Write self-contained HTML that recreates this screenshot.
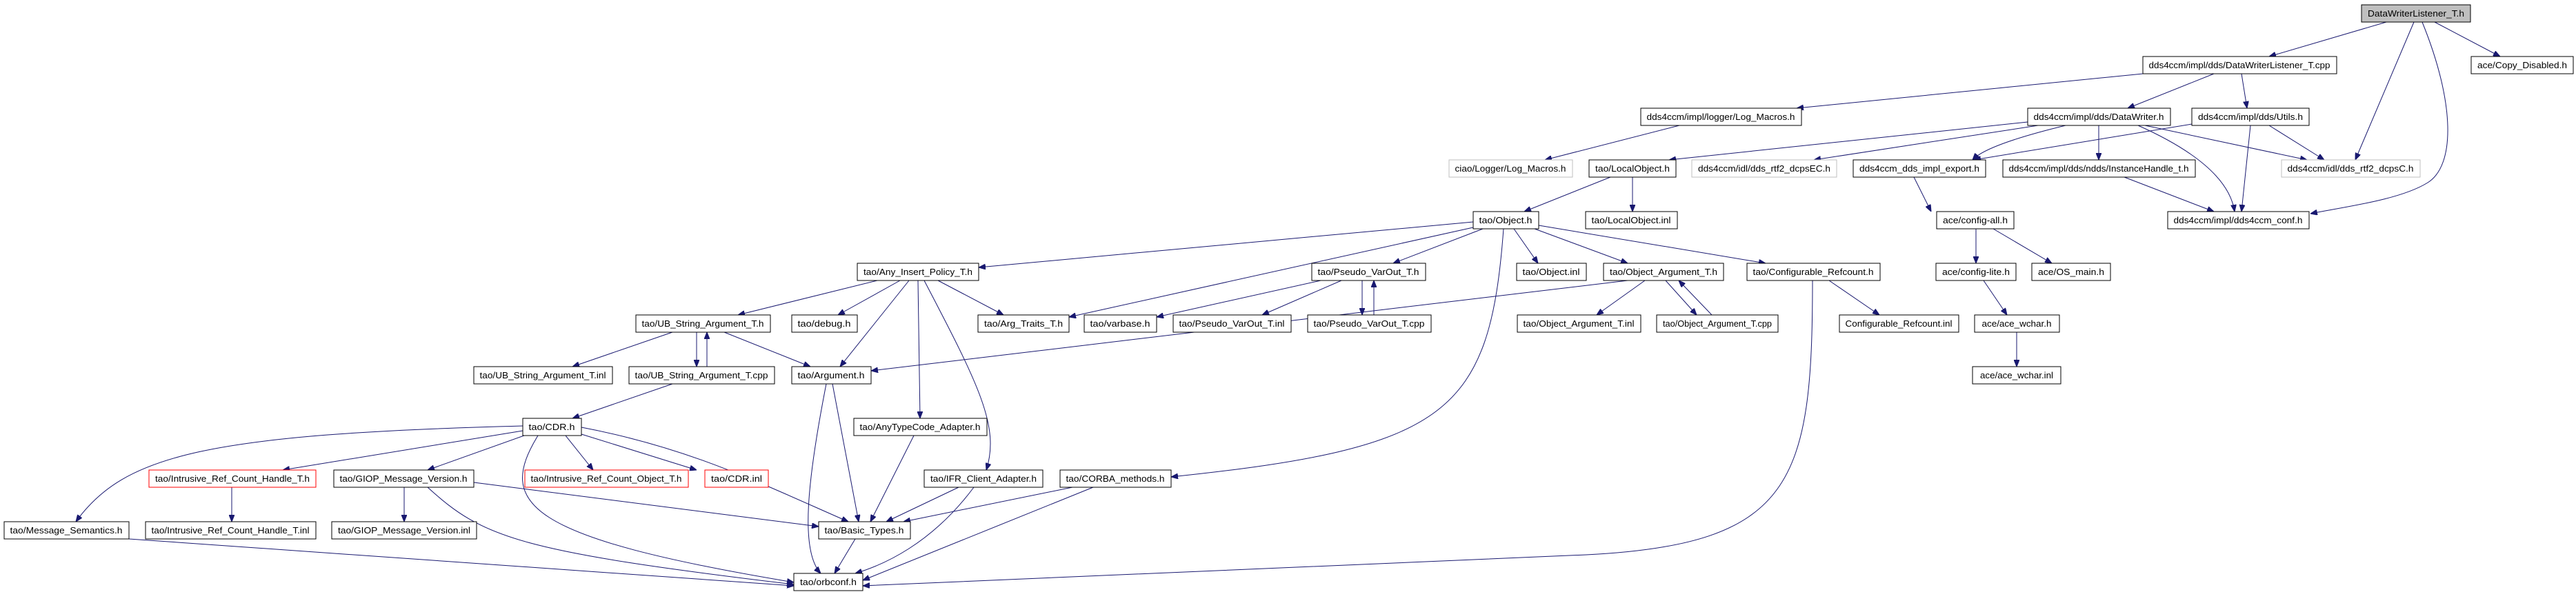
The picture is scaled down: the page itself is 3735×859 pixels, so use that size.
<!DOCTYPE html>
<html><head><meta charset="utf-8"><style>
html,body{margin:0;padding:0;background:#fff;}
svg{display:block;}
text{font-family:"Liberation Sans",sans-serif;font-size:13px;fill:#000;}
rect{fill:#fff;stroke:#000;stroke-width:1;}
rect.g{stroke:#bfbfbf;}
rect.r{stroke:#ff0000;}
rect.f{fill:#bfbfbf;}
path{fill:none;stroke:#191970;stroke-width:1;}
</style></head><body>
<svg width="3735" height="859" viewBox="0 0 3735 859" xmlns="http://www.w3.org/2000/svg">
<defs><marker id="a" markerWidth="10" markerHeight="8" refX="10" refY="4" orient="auto" markerUnits="userSpaceOnUse"><path d="M0,0 L10,4 L0,8z" style="fill:#191970;stroke:#191970"/></marker></defs>
<g marker-end="url(#a)">
<path d="M3460 32 L3290 82"/>
<path d="M3500 32 L3415 232"/>
<path d="M3512 32 C3560 150 3560 240 3520 265 S3400 300 3350 310"/>
<path d="M3530 32 L3625 82"/>
<path d="M3107 107 L2605 157"/>
<path d="M3210 107 L3085 157"/>
<path d="M3250 107 L3258 157"/>
<path d="M2435 182 L2240 232"/>
<path d="M2940 177 L2420 232"/>
<path d="M2955 182 L2630 232"/>
<path d="M2995 182 Q2880 210 2860 232"/>
<path d="M3043 182 L3043 232"/>
<path d="M3100 182 Q3230 240 3240 307"/>
<path d="M3110 182 L3345 232"/>
<path d="M3178 180 L2862 232"/>
<path d="M3263 182 L3250 307"/>
<path d="M3290 182 L3370 232"/>
<path d="M3080 257 L3210 307"/>
<path d="M2775 257 L2800 307"/>
<path d="M2865 332 L2865 382"/>
<path d="M2890 332 L2975 382"/>
<path d="M2876 407 L2910 457"/>
<path d="M2924 482 L2924 532"/>
<path d="M2335 257 L2210 307"/>
<path d="M2367 257 L2367 307"/>
<path d="M2136 322 L1419 388"/>
<path d="M2136 330 L1550 460"/>
<path d="M2150 332 L2020 382"/>
<path d="M2195 332 L2230 382"/>
<path d="M2225 332 L2360 382"/>
<path d="M2231 327 L2560 382"/>
<path d="M2180 332 C2160 600 2100 650 1698 692"/>
<path d="M1915 407 L1677 460"/>
<path d="M1945 407 L1830 457"/>
<path d="M1975 407 L1975 457"/>
<path d="M1992 457 L1992 407"/>
<path d="M2360 407 L1263 538"/>
<path d="M2385 407 L2315 457"/>
<path d="M2415 407 L2460 457"/>
<path d="M2482 457 L2434 407"/>
<path d="M2652 407 L2725 457"/>
<path d="M2628 407 C2628 700 2600 790 2300 805 L1251 850"/>
<path d="M1272 407 L1070 457"/>
<path d="M1305 407 L1215 457"/>
<path d="M1318 407 L1218 532"/>
<path d="M1331 407 L1334 607"/>
<path d="M1340 407 C1420 560 1450 620 1430 682"/>
<path d="M1360 407 L1455 457"/>
<path d="M975 482 L830 532"/>
<path d="M1010 482 L1010 532"/>
<path d="M1025 532 L1025 482"/>
<path d="M1050 482 L1175 532"/>
<path d="M975 557 L830 607"/>
<path d="M1198 557 C1170 700 1160 800 1190 832"/>
<path d="M1207 557 L1245 757"/>
<path d="M1325 632 L1262 757"/>
<path d="M758 618 C300 630 180 660 110 757"/>
<path d="M758 625 L410 682"/>
<path d="M760 632 L620 682"/>
<path d="M780 632 C720 730 760 780 1151 845"/>
<path d="M820 632 L860 682"/>
<path d="M843 630 L1010 682"/>
<path d="M843 620 C1000 650 1100 700 1230 757"/>
<path d="M336 707 L336 757"/>
<path d="M586 707 L586 757"/>
<path d="M687 700 L1187 764"/>
<path d="M620 707 C700 780 750 800 1151 848"/>
<path d="M1390 707 L1285 757"/>
<path d="M1412 707 C1350 790 1280 820 1240 832"/>
<path d="M1555 707 L1310 757"/>
<path d="M1585 707 L1251 842"/>
<path d="M1240 782 L1210 832"/>
<path d="M187 782 L1151 850"/>
</g>
<g text-anchor="middle">
<rect class="f" x="3424" y="7" width="158" height="25"/><text x="3503" y="24" textLength="140" lengthAdjust="spacingAndGlyphs">DataWriterListener_T.h</text>
<rect x="3107" y="82" width="281" height="25"/><text x="3247" y="99" textLength="263" lengthAdjust="spacingAndGlyphs">dds4ccm/impl/dds/DataWriterListener_T.cpp</text>
<rect x="3583" y="82" width="148" height="25"/><text x="3657" y="99" textLength="130" lengthAdjust="spacingAndGlyphs">ace/Copy_Disabled.h</text>
<rect x="2379" y="157" width="233" height="25"/><text x="2495" y="174" textLength="215" lengthAdjust="spacingAndGlyphs">dds4ccm/impl/logger/Log_Macros.h</text>
<rect x="2940" y="157" width="207" height="25"/><text x="3043" y="174" textLength="189" lengthAdjust="spacingAndGlyphs">dds4ccm/impl/dds/DataWriter.h</text>
<rect x="3178" y="157" width="170" height="25"/><text x="3263" y="174" textLength="152" lengthAdjust="spacingAndGlyphs">dds4ccm/impl/dds/Utils.h</text>
<rect class="g" x="2101" y="232" width="179" height="25"/><text x="2190" y="249" textLength="161" lengthAdjust="spacingAndGlyphs">ciao/Logger/Log_Macros.h</text>
<rect x="2304" y="232" width="126" height="25"/><text x="2367" y="249" textLength="108" lengthAdjust="spacingAndGlyphs">tao/LocalObject.h</text>
<rect class="g" x="2453" y="232" width="210" height="25"/><text x="2558" y="249" textLength="192" lengthAdjust="spacingAndGlyphs">dds4ccm/idl/dds_rtf2_dcpsEC.h</text>
<rect x="2687" y="232" width="192" height="25"/><text x="2783" y="249" textLength="174" lengthAdjust="spacingAndGlyphs">dds4ccm_dds_impl_export.h</text>
<rect x="2904" y="232" width="279" height="25"/><text x="3043" y="249" textLength="261" lengthAdjust="spacingAndGlyphs">dds4ccm/impl/dds/ndds/InstanceHandle_t.h</text>
<rect class="g" x="3308" y="232" width="201" height="25"/><text x="3408" y="249" textLength="183" lengthAdjust="spacingAndGlyphs">dds4ccm/idl/dds_rtf2_dcpsC.h</text>
<rect x="2136" y="307" width="95" height="25"/><text x="2183" y="324" textLength="77" lengthAdjust="spacingAndGlyphs">tao/Object.h</text>
<rect x="2299" y="307" width="133" height="25"/><text x="2365" y="324" textLength="115" lengthAdjust="spacingAndGlyphs">tao/LocalObject.inl</text>
<rect x="2808" y="307" width="112" height="25"/><text x="2864" y="324" textLength="94" lengthAdjust="spacingAndGlyphs">ace/config-all.h</text>
<rect x="3143" y="307" width="205" height="25"/><text x="3245" y="324" textLength="187" lengthAdjust="spacingAndGlyphs">dds4ccm/impl/dds4ccm_conf.h</text>
<rect x="1243" y="382" width="176" height="25"/><text x="1331" y="399" textLength="158" lengthAdjust="spacingAndGlyphs">tao/Any_Insert_Policy_T.h</text>
<rect x="1902" y="382" width="165" height="25"/><text x="1984" y="399" textLength="147" lengthAdjust="spacingAndGlyphs">tao/Pseudo_VarOut_T.h</text>
<rect x="2199" y="382" width="101" height="25"/><text x="2249" y="399" textLength="83" lengthAdjust="spacingAndGlyphs">tao/Object.inl</text>
<rect x="2325" y="382" width="174" height="25"/><text x="2412" y="399" textLength="156" lengthAdjust="spacingAndGlyphs">tao/Object_Argument_T.h</text>
<rect x="2533" y="382" width="193" height="25"/><text x="2629" y="399" textLength="175" lengthAdjust="spacingAndGlyphs">tao/Configurable_Refcount.h</text>
<rect x="2807" y="382" width="116" height="25"/><text x="2865" y="399" textLength="98" lengthAdjust="spacingAndGlyphs">ace/config-lite.h</text>
<rect x="2946" y="382" width="114" height="25"/><text x="3003" y="399" textLength="96" lengthAdjust="spacingAndGlyphs">ace/OS_main.h</text>
<rect x="922" y="457" width="195" height="25"/><text x="1019" y="474" textLength="177" lengthAdjust="spacingAndGlyphs">tao/UB_String_Argument_T.h</text>
<rect x="1148" y="457" width="95" height="25"/><text x="1195" y="474" textLength="77" lengthAdjust="spacingAndGlyphs">tao/debug.h</text>
<rect x="1418" y="457" width="132" height="25"/><text x="1484" y="474" textLength="114" lengthAdjust="spacingAndGlyphs">tao/Arg_Traits_T.h</text>
<rect x="1572" y="457" width="105" height="25"/><text x="1624" y="474" textLength="87" lengthAdjust="spacingAndGlyphs">tao/varbase.h</text>
<rect x="1701" y="457" width="171" height="25"/><text x="1786" y="474" textLength="153" lengthAdjust="spacingAndGlyphs">tao/Pseudo_VarOut_T.inl</text>
<rect x="1896" y="457" width="179" height="25"/><text x="1985" y="474" textLength="161" lengthAdjust="spacingAndGlyphs">tao/Pseudo_VarOut_T.cpp</text>
<rect x="2200" y="457" width="179" height="25"/><text x="2289" y="474" textLength="161" lengthAdjust="spacingAndGlyphs">tao/Object_Argument_T.inl</text>
<rect x="2402" y="457" width="176" height="25"/><text x="2490" y="474" textLength="158" lengthAdjust="spacingAndGlyphs">tao/Object_Argument_T.cpp</text>
<rect x="2667" y="457" width="173" height="25"/><text x="2753" y="474" textLength="155" lengthAdjust="spacingAndGlyphs">Configurable_Refcount.inl</text>
<rect x="2863" y="457" width="123" height="25"/><text x="2924" y="474" textLength="101" lengthAdjust="spacingAndGlyphs">ace/ace_wchar.h</text>
<rect x="687" y="532" width="201" height="25"/><text x="787" y="549" textLength="183" lengthAdjust="spacingAndGlyphs">tao/UB_String_Argument_T.inl</text>
<rect x="912" y="532" width="211" height="25"/><text x="1017" y="549" textLength="193" lengthAdjust="spacingAndGlyphs">tao/UB_String_Argument_T.cpp</text>
<rect x="1148" y="532" width="115" height="25"/><text x="1205" y="549" textLength="97" lengthAdjust="spacingAndGlyphs">tao/Argument.h</text>
<rect x="2860" y="532" width="128" height="25"/><text x="2924" y="549" textLength="106" lengthAdjust="spacingAndGlyphs">ace/ace_wchar.inl</text>
<rect x="758" y="607" width="85" height="25"/><text x="800" y="624" textLength="67" lengthAdjust="spacingAndGlyphs">tao/CDR.h</text>
<rect x="1238" y="607" width="193" height="25"/><text x="1334" y="624" textLength="175" lengthAdjust="spacingAndGlyphs">tao/AnyTypeCode_Adapter.h</text>
<rect class="r" x="216" y="682" width="242" height="25"/><text x="337" y="699" textLength="224" lengthAdjust="spacingAndGlyphs">tao/Intrusive_Ref_Count_Handle_T.h</text>
<rect x="484" y="682" width="203" height="25"/><text x="585" y="699" textLength="185" lengthAdjust="spacingAndGlyphs">tao/GIOP_Message_Version.h</text>
<rect class="r" x="761" y="682" width="237" height="25"/><text x="879" y="699" textLength="219" lengthAdjust="spacingAndGlyphs">tao/Intrusive_Ref_Count_Object_T.h</text>
<rect class="r" x="1022" y="682" width="92" height="25"/><text x="1068" y="699" textLength="74" lengthAdjust="spacingAndGlyphs">tao/CDR.inl</text>
<rect x="1340" y="682" width="172" height="25"/><text x="1426" y="699" textLength="154" lengthAdjust="spacingAndGlyphs">tao/IFR_Client_Adapter.h</text>
<rect x="1537" y="682" width="161" height="25"/><text x="1617" y="699" textLength="143" lengthAdjust="spacingAndGlyphs">tao/CORBA_methods.h</text>
<rect x="6" y="757" width="181" height="25"/><text x="96" y="774" textLength="163" lengthAdjust="spacingAndGlyphs">tao/Message_Semantics.h</text>
<rect x="211" y="757" width="247" height="25"/><text x="334" y="774" textLength="229" lengthAdjust="spacingAndGlyphs">tao/Intrusive_Ref_Count_Handle_T.inl</text>
<rect x="481" y="757" width="210" height="25"/><text x="586" y="774" textLength="192" lengthAdjust="spacingAndGlyphs">tao/GIOP_Message_Version.inl</text>
<rect x="1187" y="757" width="133" height="25"/><text x="1253" y="774" textLength="115" lengthAdjust="spacingAndGlyphs">tao/Basic_Types.h</text>
<rect x="1151" y="832" width="100" height="25"/><text x="1201" y="849" textLength="82" lengthAdjust="spacingAndGlyphs">tao/orbconf.h</text>
</g>
</svg>
</body></html>
